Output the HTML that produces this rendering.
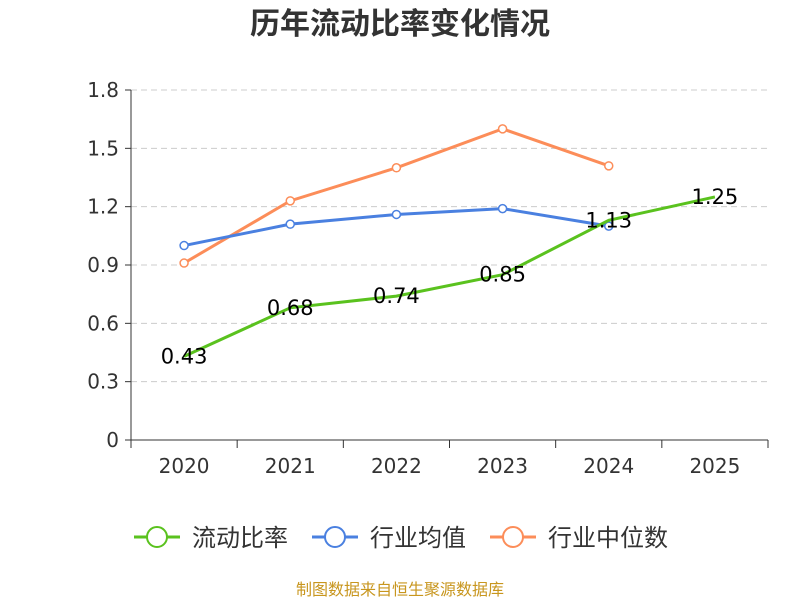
<!DOCTYPE html>
<html><head><meta charset="utf-8"><style>
body{margin:0;background:#fff;}
svg text{font-family:"DejaVu Sans","Noto Sans CJK SC",sans-serif;}
</style></head><body>
<svg width="800" height="600" xmlns="http://www.w3.org/2000/svg">
<text x="400" y="34" text-anchor="middle" font-size="30" font-weight="bold" fill="#333">历年流动比率变化情况</text>
<g id="grid"></g><g id="axes"></g><g id="series"></g><g id="legend"></g>
<text x="400" y="595" text-anchor="middle" font-size="16" fill="#c8961e">制图数据来自恒生聚源数据库</text>
</svg>
<script>
const categories=["2020","2021","2022","2023","2024","2025"];
const yTicks=[0,0.3,0.6,0.9,1.2,1.5,1.8];
const yTickLabels=["0","0.3","0.6","0.9","1.2","1.5","1.8"];
const currentRatio=[0.43,0.68,0.74,0.85,1.13,1.25];
const industryAvg=[1.00,1.11,1.16,1.19,1.10];
const industryMedian=[0.91,1.23,1.40,1.60,1.41];
const NS="http://www.w3.org/2000/svg";
const L=131,R=768,T=90,B=440;
const bw=(R-L)/categories.length;
const x=i=>L+bw*(i+0.5);
const y=v=>B-(v/1.8)*(B-T);
function mk(tag,attrs,parent,text){const e=document.createElementNS(NS,tag);for(const k in attrs)e.setAttribute(k,attrs[k]);if(text!==undefined)e.textContent=text;parent.appendChild(e);return e;}
const grid=document.getElementById('grid'),axes=document.getElementById('axes'),ser=document.getElementById('series'),leg=document.getElementById('legend');
yTicks.forEach((t,i)=>{
 if(t>0){const g=mk('line',{x1:L,x2:R,y1:y(t),y2:y(t),stroke:'#ccc','stroke-dasharray':'6,4'},grid);
 
 }
 mk('line',{x1:L-6,x2:L,y1:y(t),y2:y(t),stroke:'#333'},axes);
 const tl=mk('text',{x:L-12,y:y(t)+7,'text-anchor':'end','font-size':20,fill:'#333'},axes,yTickLabels[i]);
 
 
});
mk('line',{x1:L,x2:L,y1:T,y2:B,stroke:'#333'},axes);
mk('line',{x1:L,x2:R,y1:B,y2:B,stroke:'#333'},axes);
for(let i=0;i<=categories.length;i++)mk('line',{x1:L+bw*i,x2:L+bw*i,y1:B,y2:B+8,stroke:'#333'},axes);
categories.forEach((c,i)=>{const t=mk('text',{x:x(i),y:473,'text-anchor':'middle','font-size':20,fill:'#333'},axes,c);
 
 });
function line(vals,color,name,markers){
 const p=mk('polyline',{points:vals.map((v,i)=>x(i)+','+y(v)).join(' '),fill:'none',stroke:color,'stroke-width':3},ser);
 
 
 if(markers)vals.forEach((v,i)=>{const c=mk('circle',{cx:x(i),cy:y(v),r:4,fill:'#fff',stroke:color,'stroke-width':1.5},ser);
 
 });
}
line(industryMedian,'#fc8d59','industry-median',true);
line(industryAvg,'#4a80e0','industry-average',true);
line(currentRatio,'#5ac21e','current-ratio',false);
currentRatio.forEach((v,i)=>{const t=mk('text',{x:x(i),y:y(v)+7,'text-anchor':'middle','font-size':21,fill:'#000'},ser,v.toFixed(2));
 
 });
[["流动比率",'#5ac21e',134],["行业均值",'#4a80e0',312],["行业中位数",'#fc8d59',490]].forEach(([n,c,lx])=>{
 const g=mk('g',{},leg);
 
 
 mk('line',{x1:lx,x2:lx+46,y1:537,y2:537,stroke:c,'stroke-width':3},g);
 mk('circle',{cx:lx+23,cy:537,r:10,fill:'#fff',stroke:c,'stroke-width':2},g);
 mk('text',{x:lx+58,y:546,'font-size':24,fill:'#333'},g,n);
});
</script>
</body></html>
